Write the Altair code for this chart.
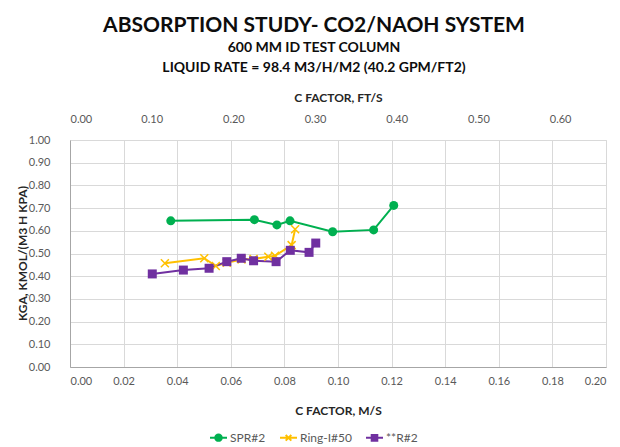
import altair as alt
import pandas as pd

# ---- data ----
series_names = ["SPR#2", "Ring-I#50", "**R#2"]
series_colors = ["#00B050", "#FFC000", "#7030A0"]

spr_x = [0.0376, 0.0688, 0.0772, 0.0821, 0.0980, 0.1133, 0.1208]
spr_y = [0.644, 0.649, 0.626, 0.644, 0.596, 0.604, 0.712]

ring_x = [0.0354, 0.0501, 0.0544, 0.0585, 0.0640, 0.0685, 0.0740, 0.0765, 0.0827, 0.0840]
ring_y = [0.457, 0.479, 0.445, 0.459, 0.474, 0.476, 0.486, 0.490, 0.537, 0.607]

r2_x = [0.0307, 0.0423, 0.0519, 0.0585, 0.0639, 0.0685, 0.0769, 0.0822, 0.0892, 0.0917]
r2_y = [0.410, 0.427, 0.435, 0.464, 0.479, 0.468, 0.464, 0.514, 0.505, 0.546]

x_ticks_ms = [0.00, 0.02, 0.04, 0.06, 0.08, 0.10, 0.12, 0.14, 0.16, 0.18, 0.20]
x_ticks_fts = [0.00, 0.10, 0.20, 0.30, 0.40, 0.50, 0.60]
y_ticks = [0.0, 0.1, 0.2, 0.3, 0.4, 0.5, 0.6, 0.7, 0.8, 0.9, 1.0]
MS_TO_FTS = 3.2808

rows = []
for name, xs, ys in [("SPR#2", spr_x, spr_y), ("Ring-I#50", ring_x, ring_y), ("**R#2", r2_x, r2_y)]:
    for i, (xv, yv) in enumerate(zip(xs, ys)):
        rows.append({"series": name, "i": i, "x": xv, "y": yv, "xft": xv * MS_TO_FTS})
df = pd.DataFrame(rows)

FONT = "Lato"
LABEL_COLOR = "#595959"
GRID = "#D9D9D9"
AXIS_LINE = "#A6A6A6"

X_PATH = "M-1,-1L1,1M-1,1L1,-1"
marker_shapes = ["circle", X_PATH, "square"]
marker_filled = [True, False, True]

# legend symbols: short line with the series marker on it
leg_circle = "M-1,0H1M-0.38,0A0.38,0.38 0 1,1 0.38,0A0.38,0.38 0 1,1 -0.38,0Z"
leg_x = "M-1,0H1M-0.33,-0.33L0.33,0.33M-0.33,0.33L0.33,-0.33"
leg_sq = "M-1,0H1M-0.33,-0.33H0.33V0.33H-0.33Z"
legend_shapes = [leg_circle, leg_x, leg_sq]

LEGEND = dict(
    orient="none", legendX=139, legendY=288, direction="horizontal",
    title=None, symbolSize=289, symbolStrokeWidth=2, symbolOpacity=1,
    labelFont=FONT, labelFontSize=12, labelColor=LABEL_COLOR,
    columnPadding=10, labelOffset=2,
)

y_axis = alt.Axis(
    values=y_ticks, format=".2f", title="KGA, KMOL/(M3 H KPA)",
    grid=True, gridColor=GRID, ticks=False, tickSize=0, labelOverlap=False,
    domainColor=AXIS_LINE, labelPadding=20,
    labelFont=FONT, labelFontSize=11, labelColor=LABEL_COLOR,
    titleFont=FONT, titleFontSize=12, titleFontWeight="bold", titleColor="#262626",
    titleX=-48, titleY=113, titleBaseline="middle",
)
y_scale = alt.Scale(domain=[0, 1], nice=False)
y_enc = alt.Y("y:Q", scale=y_scale, axis=y_axis)

x_bottom = alt.X(
    "x:Q",
    scale=alt.Scale(domain=[0, 0.2], nice=False),
    axis=alt.Axis(
        values=x_ticks_ms, format=".2f", title="C FACTOR, M/S",
        grid=True, gridColor=GRID, ticks=False, tickSize=0, labelOverlap=False,
        domainColor=AXIS_LINE, labelPadding=8,
        labelFont=FONT, labelFontSize=11, labelColor=LABEL_COLOR,
        titleFont=FONT, titleFontSize=12, titleFontWeight="bold", titleColor="#262626",
        titleY=43, titleBaseline="middle",
    ),
)

lines = alt.Chart(df).mark_line(strokeWidth=2).encode(
    x=x_bottom,
    y=y_enc,
    order="i:Q",
    color=alt.Color("series:N", scale=alt.Scale(domain=series_names, range=series_colors),
                    legend=alt.Legend(**LEGEND)),
)

# invisible layer that only carries the legend symbols (line + marker)
legend_layer = alt.Chart(df).mark_point(size=81, filled=True, opacity=0).encode(
    x="x:Q",
    y=y_enc,
    fill=alt.Fill("series:N", scale=alt.Scale(domain=series_names, range=series_colors),
                  legend=alt.Legend(**LEGEND)),
    stroke=alt.Stroke("series:N", scale=alt.Scale(domain=series_names, range=series_colors),
                      legend=alt.Legend(**LEGEND)),
    shape=alt.Shape("series:N", scale=alt.Scale(domain=series_names, range=legend_shapes),
                    legend=alt.Legend(**LEGEND)),
)

marker_layers = []
for name, col, shp, fil in zip(series_names, series_colors, marker_shapes, marker_filled):
    marker_layers.append(
        alt.Chart(df).transform_filter(alt.datum.series == name).mark_point(
            shape=shp, filled=fil, color=col, size=81 if fil else 64,
            strokeWidth=1.5, opacity=1,
        ).encode(x="x:Q", y=y_enc)
    )

main = alt.layer(lines, legend_layer, *marker_layers)

top_axis = alt.Chart(df).mark_point(opacity=0).encode(
    x=alt.X(
        "xft:Q",
        scale=alt.Scale(domain=[0, 0.2 * MS_TO_FTS], nice=False),
        axis=alt.Axis(
            orient="top", values=x_ticks_fts, format=".2f", title="C FACTOR, FT/S",
            grid=False, ticks=False, tickSize=0, domain=False, labelPadding=16,
            labelFont=FONT, labelFontSize=11, labelColor=LABEL_COLOR,
            titleFont=FONT, titleFontSize=12, titleFontWeight="bold", titleColor="#262626",
            titleY=-43, titleBaseline="middle",
        ),
    ),
    y=y_enc,
)

chart = alt.layer(main, top_axis).resolve_scale(
    x="independent"
).properties(
    width=536,
    height=227,
    autosize=alt.AutoSizeParams(type="none"),
    padding={"left": 62, "top": 132, "right": 6, "bottom": 80},
    title=alt.TitleParams(
        text="ABSORPTION STUDY- CO2/NAOH SYSTEM",
        subtitle=["600 MM ID TEST COLUMN", "LIQUID RATE = 98.4 M3/H/M2 (40.2 GPM/FT2)"],
        font=FONT, fontSize=21, fontWeight="bold", color="#0D0D0D",
        subtitleFont=FONT, subtitleFontSize=14, subtitleFontWeight="bold",
        subtitleColor="#0D0D0D", subtitlePadding=5, subtitleLineHeight=20,
        anchor="middle", offset=16, dx=-24,
    ),
).configure_view(stroke=AXIS_LINE, strokeWidth=1).configure(background="white")

chart.save("out.html", embed_options={"renderer": "svg", "actions": False})
